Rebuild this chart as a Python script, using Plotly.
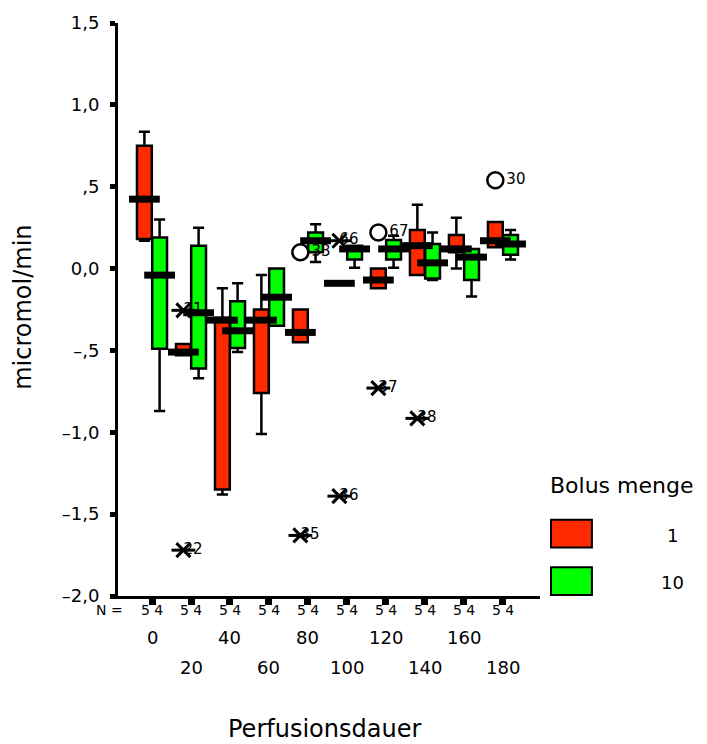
import numpy as np
import plotly.graph_objects as go

categories = [0, 20, 40, 60, 80, 100, 120, 140, 160, 180]
n_red = [5] * 10
n_green = [4] * 10

# Bolus menge 1 (red)
red_lo = [0.17, -0.53, -1.38, -1.01, -0.45, -0.09, -0.12, -0.04, 0.00, 0.13]
red_q1 = [0.18, -0.53, -1.35, -0.76, -0.45, -0.09, -0.12, -0.04, 0.10, 0.13]
red_med = [0.424, -0.51, -0.315, -0.315, -0.39, -0.09, -0.07, 0.14, 0.12, 0.17]
red_q3 = [0.75, -0.46, -0.30, -0.25, -0.25, -0.09, 0.00, 0.235, 0.205, 0.285]
red_hi = [0.836, -0.46, -0.12, -0.04, -0.25, -0.09, 0.00, 0.39, 0.31, 0.285]

# Bolus menge 10 (green)
grn_lo = [-0.87, -0.67, -0.51, -0.35, 0.04, 0.005, 0.005, -0.07, -0.17, 0.055]
grn_q1 = [-0.49, -0.61, -0.485, -0.35, 0.10, 0.055, 0.055, -0.06, -0.07, 0.085]
grn_med = [-0.04, -0.27, -0.38, -0.175, 0.17, 0.12, 0.12, 0.035, 0.07, 0.15]
grn_q3 = [0.19, 0.14, -0.20, 0.00, 0.22, 0.14, 0.175, 0.15, 0.12, 0.205]
grn_hi = [0.30, 0.25, -0.09, 0.00, 0.27, 0.14, 0.20, 0.22, 0.12, 0.235]

# Outliers (all in the red group)
star_cat = [20, 20, 80, 100, 100, 120, 140]
star_val = [-0.255, -1.72, -1.63, 0.17, -1.39, -0.73, -0.915]
star_lab = ["21", "22", "35", "66", "36", "37", "38"]
circ_cat = [80, 120, 180]
circ_val = [0.10, 0.22, 0.54]
circ_lab = ["33", "67", "30"]

y_ticks = [-2.0, -1.5, -1.0, -0.5, 0.0, 0.5, 1.0, 1.5]
y_ticktext = ["–2,0", "–1,5", "–1,0", "–,5", "0,0", ",5", "1,0", "1,5"]

RED = "#FF2A00"
GREEN = "#00FF00"
FONT = "DejaVu Sans"
OFF = 0.195
BW = 0.38

idx = np.arange(len(categories))
pos = {c: i for i, c in enumerate(categories)}

fig = go.Figure()

# outliers first (boxes drawn over their labels, as in the original)
sx = [pos[c] - OFF for c in star_cat]
fig.add_trace(go.Scatter(
    x=sx, y=star_val, mode="text", text=star_lab, textposition="middle right",
    textfont=dict(family=FONT, size=15, color="black"),
    showlegend=False, hoverinfo="skip",
))
for sym, sz in [("x-thin-open", 14), ("line-ew-open", 17)]:
    fig.add_trace(go.Scatter(
        x=sx, y=star_val, mode="markers",
        marker=dict(symbol=sym, size=sz, color="black",
                    line=dict(color="black", width=3)),
        showlegend=False, hoverinfo="skip",
    ))

cx = [pos[c] - OFF for c in circ_cat]
fig.add_trace(go.Scatter(
    x=cx, y=circ_val, mode="markers+text", text=circ_lab, textposition="middle right",
    textfont=dict(family=FONT, size=15, color="black"),
    marker=dict(symbol="circle-open", size=16, color="black", line=dict(color="black", width=2.5)),
    showlegend=False, hoverinfo="skip",
))

for col, off, lo, q1, med, q3, hi in [
    (RED, -OFF, red_lo, red_q1, red_med, red_q3, red_hi),
    (GREEN, OFF, grn_lo, grn_q1, grn_med, grn_q3, grn_hi),
]:
    fig.add_trace(go.Box(
        x=list(idx + off), q1=q1, median=med, q3=q3,
        lowerfence=lo, upperfence=hi, width=BW,
        fillcolor=col, line=dict(color="black", width=2.5),
        whiskerwidth=0.75, boxpoints=False, showlegend=False,
        hoverinfo="skip",
    ))

for off, med in [(-OFF, red_med), (OFF, grn_med)]:
    fig.add_trace(go.Scatter(
        x=list(idx + off), y=med, mode="markers",
        marker=dict(symbol="line-ew", size=22, line=dict(color="black", width=7)),
        showlegend=False, hoverinfo="skip",
    ))

annotations = []
annotations.append(dict(x=-0.019, y=-0.0242, xref="paper", yref="paper", text="N =",
                        showarrow=False, font=dict(family=FONT, size=14, color="black"),
                        xanchor="center", yanchor="middle"))
for i, c in enumerate(categories):
    annotations.append(dict(x=i, y=-0.0242, xref="x", yref="paper",
                            text=f"{n_red[i]} {n_green[i]}", showarrow=False,
                            font=dict(family=FONT, size=14, color="black"),
                            xanchor="center", yanchor="middle"))
    yrow = -0.0727 if i % 2 == 0 else -0.1246
    annotations.append(dict(x=i, y=yrow, xref="x", yref="paper", text=str(c),
                            showarrow=False, font=dict(family=FONT, size=18, color="black"),
                            xanchor="center", yanchor="middle"))

annotations.append(dict(x=0.49, y=-0.232, xref="paper", yref="paper", text="Perfusionsdauer",
                        showarrow=False, font=dict(family=FONT, size=24, color="black"),
                        xanchor="center", yanchor="middle"))
annotations.append(dict(x=-0.225, y=0.503, xref="paper", yref="paper", text="micromol/min",
                        textangle=-90, showarrow=False,
                        font=dict(family=FONT, size=24, color="black"),
                        xanchor="center", yanchor="middle"))
annotations.append(dict(x=1.02, y=0.192, xref="paper", yref="paper", text="Bolus menge",
                        showarrow=False, font=dict(family=FONT, size=22, color="black"),
                        xanchor="left", yanchor="middle"))
annotations.append(dict(x=1.315, y=0.106, xref="paper", yref="paper", text="1",
                        showarrow=False, font=dict(family=FONT, size=18, color="black"),
                        xanchor="center", yanchor="middle"))
annotations.append(dict(x=1.315, y=0.024, xref="paper", yref="paper", text="10",
                        showarrow=False, font=dict(family=FONT, size=18, color="black"),
                        xanchor="center", yanchor="middle"))

shapes = [
    dict(type="rect", xref="paper", yref="paper", x0=1.026, x1=1.123, y0=0.0848, y1=0.1332,
         fillcolor=RED, line=dict(color="black", width=2)),
    dict(type="rect", xref="paper", yref="paper", x0=1.026, x1=1.123, y0=0.0017, y1=0.0502,
         fillcolor=GREEN, line=dict(color="black", width=2)),
]

fig.update_layout(
    width=707, height=744,
    margin=dict(l=118, r=167, t=18, b=148),
    paper_bgcolor="white", plot_bgcolor="white",
    font=dict(family=FONT, color="black"),
    showlegend=False,
    annotations=annotations, shapes=shapes,
    xaxis=dict(range=[-0.872, 9.95], tickvals=list(idx), showticklabels=False,
               ticks="outside", ticklen=6, tickwidth=7, tickcolor="black",
               showline=True, linecolor="black", linewidth=3, showgrid=False,
               zeroline=False, fixedrange=True),
    yaxis=dict(range=[-2.0, 1.5], tickvals=y_ticks, ticktext=y_ticktext,
               ticks="outside", ticklen=5, tickwidth=5, tickcolor="black",
               tickfont=dict(family=FONT, size=18, color="black"),
               ticklabelstandoff=7,
               showline=True, linecolor="black", linewidth=3, showgrid=False,
               zeroline=False, fixedrange=True),
)

fig.write_html("out.html")
